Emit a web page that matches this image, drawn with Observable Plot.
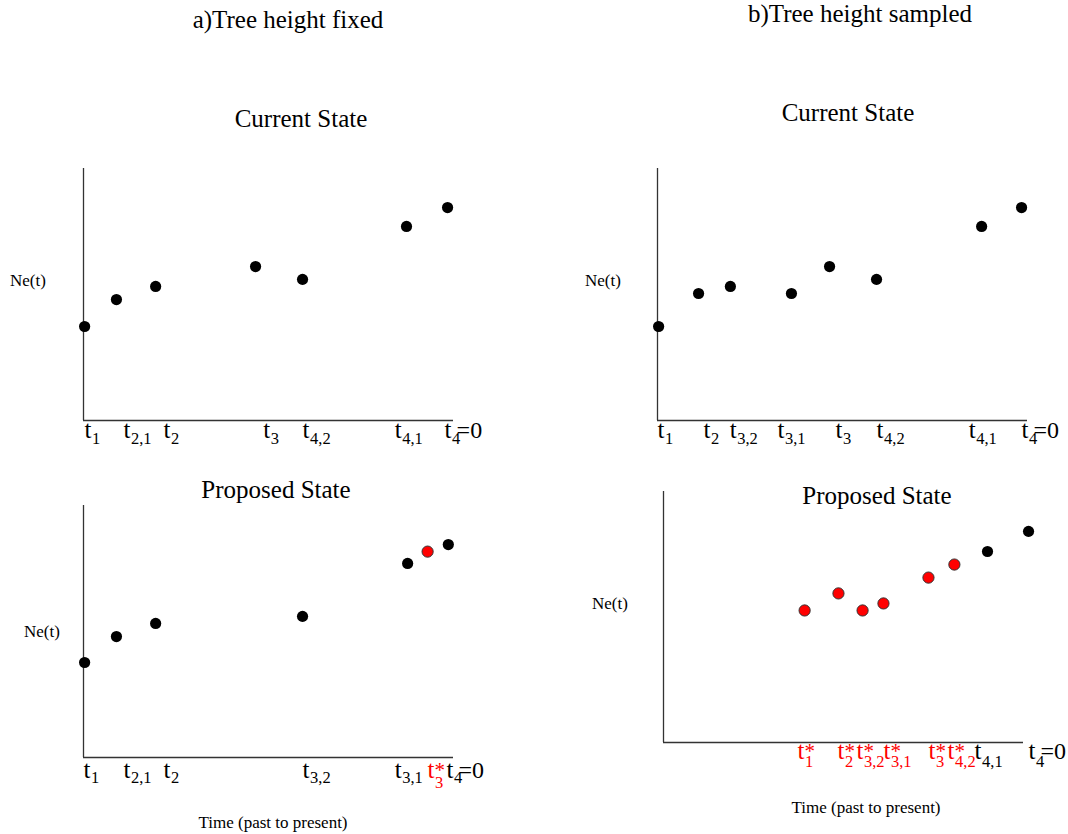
<!DOCTYPE html>
<html>
<head>
<meta charset="utf-8">
<script src="https://cdn.jsdelivr.net/npm/d3@7"></script>
<script src="https://cdn.jsdelivr.net/npm/@observablehq/plot@0.6"></script>
<style>
  html, body { margin: 0; padding: 0; background: #fff; }
  #page { position: relative; width: 1068px; height: 834px; overflow: hidden; font-family: "Liberation Serif", "DejaVu Serif", serif; color: #000; }
  .lbl { position: absolute; line-height: 1; white-space: nowrap; }
</style>
</head>
<body>
<div id="page"></div>
<script>
// ---------- data (time on a 0–100 scale from t1 to present; Ne(t) on 0–100) ----------
// a) Tree height fixed — current state
const aCurTime = [0.3, 8.9, 19.5, 46.5, 59.2, 87.3, 98.4];
const aCurNe   = [37.3, 48.0, 53.2, 61.1, 56.0, 77.0, 84.5];
const aCurNew  = [0, 0, 0, 0, 0, 0, 0];
const aCurTickAt    = [0.3, 10.8, 21.6, 48.6, 59.2, 84.1, 97.6];
const aCurTickLabel = ["t_1", "t_2,1", "t_2", "t_3", "t_4,2", "t_4,1", "t_4=0"];

// a) Tree height fixed — proposed state
const aPropTime = [0.3, 8.9, 19.5, 59.2, 87.6, 93.0, 98.6];
const aPropNe   = [37.7, 48.0, 53.2, 56.0, 77.0, 81.7, 84.5];
const aPropNew  = [0, 0, 0, 0, 0, 1, 0];
const aPropTickAt    = [0.0, 10.8, 21.6, 59.2, 84.1, 93.0, 98.1];
const aPropTickLabel = ["t_1", "t_2,1", "t_2", "t_3,2", "t_3,1", "t*_3", "t_4=0"];

// b) Tree height sampled — current state
const bCurTime = [0.3, 11.1, 19.7, 36.2, 46.5, 59.2, 87.6, 98.4];
const bCurNe   = [37.3, 50.4, 53.2, 50.4, 61.1, 56.0, 77.0, 84.5];
const bCurNew  = [0, 0, 0, 0, 0, 0, 0, 0];
const bCurTickAt    = [0.0, 12.4, 19.5, 32.4, 48.1, 59.2, 84.1, 98.4];
const bCurTickLabel = ["t_1", "t_2", "t_3,2", "t_3,1", "t_3", "t_4,2", "t_4,1", "t_4=0"];

// b) Tree height sampled — proposed state
const bPropTime = [39.2, 48.6, 55.3, 61.1, 73.6, 80.8, 90.0, 101.4];
const bPropNe   = [52.6, 59.4, 52.6, 55.4, 65.7, 70.9, 76.1, 84.1];
const bPropNew  = [1, 1, 1, 1, 1, 1, 0, 0];
const bPropTickAt    = [37.2, 48.3, 53.6, 61.1, 73.6, 78.9, 86.4, 101.4];
const bPropTickLabel = ["t*_1", "t*_2", "t*_3,2", "t*_3,1", "t*_3", "t*_4,2", "t_4,1", "t_4=0"];

// ---------- drawing ----------
const page = document.getElementById("page");
const FONT = "Liberation Serif";
const RED = "#ff0000";

function label(text, x, baseline, size, anchor = "middle", color = "#000") {
  const d = document.createElement("div");
  d.className = "lbl";
  d.textContent = text;
  d.style.fontSize = size + "px";
  d.style.color = color;
  d.style.left = x + "px";
  d.style.top = (baseline - 0.8375 * size) + "px";
  if (anchor === "middle") d.style.transform = "translateX(-50%)";
  page.appendChild(d);
}

function parseTick(s, at) {
  const m = s.match(/^t(\*)?_([^=]+)(=0)?$/);
  return { at, star: !!m[1], sub: m[2], suffix: m[3] || "" };
}

function panel({ x0, x1, yTop, yBot, time, ne, isNew, tickAt, tickLabel, mainDy, subDy, starSubDy }) {
  const ml = 40, mr = 80, mt = 20, mb = 50;
  const dots = time.map((t, i) => ({ t, ne: ne[i], isNew: !!isNew[i] }));
  const ticks = tickLabel.map((s, i) => parseTick(s, tickAt[i]));
  const col = d => d.star ? RED : "#000";
  const common = { x: "at", y: () => 0, textAnchor: "start", lineAnchor: "bottom", fontFamily: FONT, fill: col };
  const plain = ticks.filter(d => !d.star);
  const starred = ticks.filter(d => d.star);
  const p = Plot.plot({
    width: (x1 - x0) + ml + mr,
    height: (yBot - yTop) + mt + mb,
    marginLeft: ml, marginRight: mr, marginTop: mt, marginBottom: mb,
    x: { domain: [0, 100], axis: null },
    y: { domain: [0, 100], axis: null },
    style: { background: "transparent", overflow: "visible", fontFamily: FONT },
    marks: [
      Plot.ruleX([0], { stroke: "#333", strokeWidth: 1.3 }),
      Plot.ruleY([0], { stroke: "#333", strokeWidth: 1.3 }),
      Plot.dot(dots.filter(d => !d.isNew), { x: "t", y: "ne", r: 5.6, fill: "#000", stroke: "none" }),
      Plot.dot(dots.filter(d => d.isNew), { x: "t", y: "ne", r: 5.6, fill: RED, stroke: "#333", strokeWidth: 1 }),
      Plot.text(ticks, { ...common, text: () => "t", fontSize: 25, dy: mainDy }),
      Plot.text(starred, { ...common, text: () => "*", fontSize: 21, dx: 7, dy: mainDy - 1 }),
      Plot.text(plain, { ...common, text: "sub", fontSize: 16.5, dx: 7.5, dy: subDy }),
      Plot.text(starred, { ...common, text: "sub", fontSize: 16.5, dx: 7.5, dy: starSubDy }),
      Plot.text(ticks.filter(d => d.suffix), { ...common, text: "suffix", fontSize: 24, dx: 12, dy: mainDy })
    ]
  });
  p.style.position = "absolute";
  p.style.left = (x0 - ml) + "px";
  p.style.top = (yTop - mt) + "px";
  page.appendChild(p);
  return p;
}

// titles
label("a)Tree height fixed", 288, 28, 25);
label("b)Tree height sampled", 860, 22, 25);
label("Current State", 301, 127, 25);
label("Current State", 848, 121, 25);
label("Proposed State", 276, 498, 25);
label("Proposed State", 877, 504, 25);
label("Ne(t)", 10, 286, 17, "start");
label("Ne(t)", 585, 286, 17, "start");
label("Ne(t)", 24, 637, 17, "start");
label("Ne(t)", 592, 609, 17, "start");
label("Time (past to present)", 273, 828, 17);
label("Time (past to present)", 866, 813, 17);

panel({ x0: 83, x1: 453, yTop: 168, yBot: 420, time: aCurTime, ne: aCurNe, isNew: aCurNew,
        tickAt: aCurTickAt, tickLabel: aCurTickLabel, mainDy: 17, subDy: 23, starSubDy: 23 });
panel({ x0: 83, x1: 453, yTop: 505, yBot: 757, time: aPropTime, ne: aPropNe, isNew: aPropNew,
        tickAt: aPropTickAt, tickLabel: aPropTickLabel, mainDy: 20, subDy: 25, starSubDy: 30 });
panel({ x0: 657, x1: 1027, yTop: 168, yBot: 420, time: bCurTime, ne: bCurNe, isNew: bCurNew,
        tickAt: bCurTickAt, tickLabel: bCurTickLabel, mainDy: 17, subDy: 23, starSubDy: 23 });
panel({ x0: 663, x1: 1023, yTop: 491, yBot: 742, time: bPropTime, ne: bPropNe, isNew: bPropNew,
        tickAt: bPropTickAt, tickLabel: bPropTickLabel, mainDy: 16, subDy: 24, starSubDy: 24 });
</script>
</body>
</html>
